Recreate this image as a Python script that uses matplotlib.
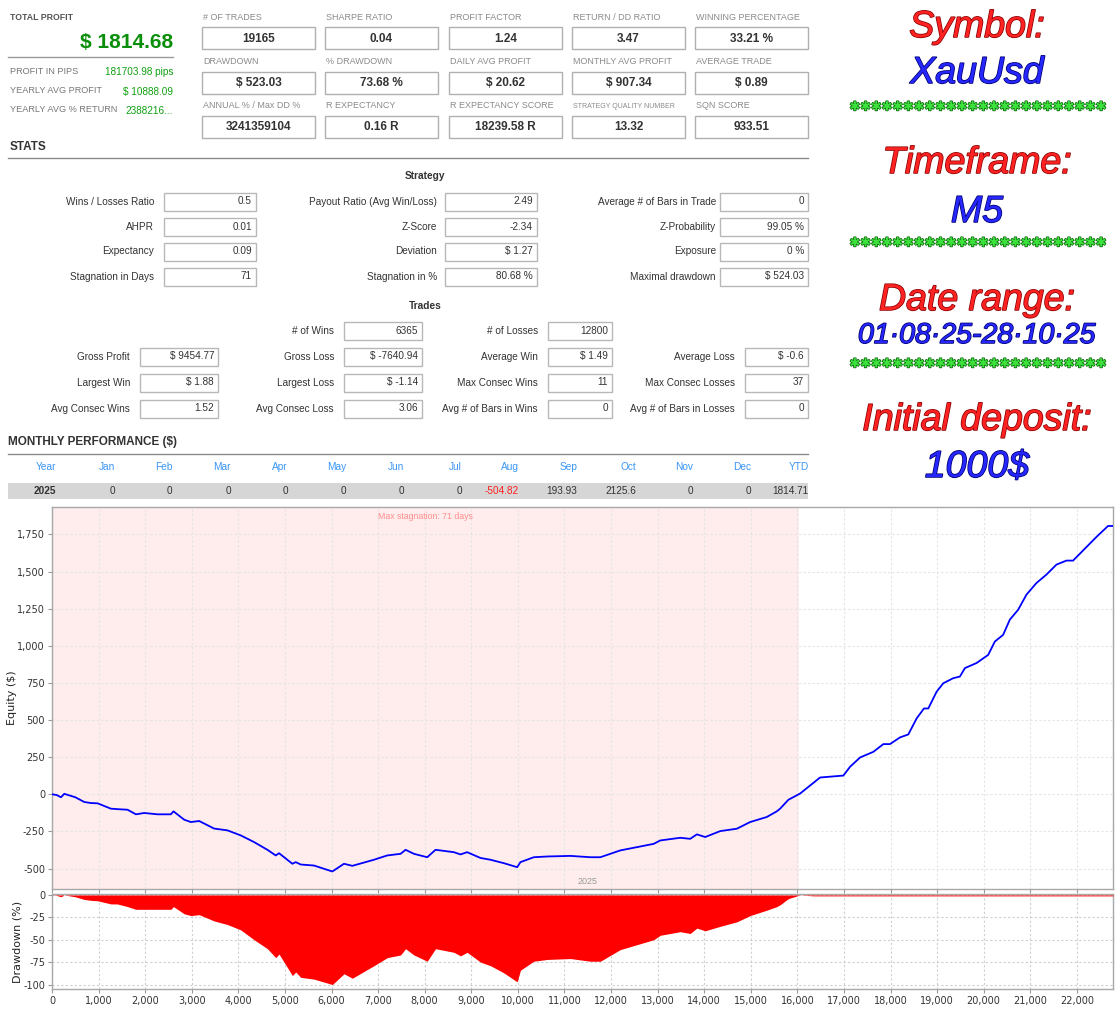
import matplotlib
matplotlib.use('Agg')
import matplotlib.pyplot as plt
import matplotlib.patheffects as pe
from matplotlib.patches import Rectangle
from matplotlib.ticker import FuncFormatter, MultipleLocator

# ---------------- data ----------------
eq_x = [0, 100, 193, 264, 500, 693, 836, 980, 1265, 1400, 1622, 1801, 1980, 2265, 2551, 2608,
        2837, 2980, 3159, 3480, 3766, 4052, 4338, 4624, 4803, 4874, 5160, 5232, 5339, 5625, 6018,
        6268, 6447, 6911, 7197, 7483, 7590, 7769, 8055, 8233, 8626, 8769, 8912, 9198, 9413, 9699,
        9985, 10056, 10342, 10628, 11128, 11557, 11771, 12200, 12915, 13058, 13486, 13700, 13843,
        14022, 14344, 14701, 14987, 15344, 15559, 15630, 15808, 16059, 16345, 16488, 16988, 17131,
        17346, 17632, 17846, 17989, 18203, 18382, 18561, 18718, 18811, 18990, 19133, 19347, 19490,
        19597, 19847, 20097, 20240, 20418, 20561, 20740, 20919, 21133, 21348, 21562, 21776, 21919,
        22133, 22419, 22669, 22776]
eq_y = [0, -5, -20, 3, -20, -52, -59, -61, -97, -100, -104, -135, -126, -135, -135, -115,
        -171, -187, -180, -231, -243, -277, -322, -374, -412, -397, -468, -457, -473, -480, -520,
        -468, -482, -441, -412, -401, -374, -401, -424, -374, -390, -405, -390, -429, -441, -464,
        -491, -457, -424, -419, -415, -424, -424, -378, -334, -311, -293, -300, -270,
        -288, -248, -232, -187, -153, -115, -97, -37, 5, 77, 113, 126, 185,
        248, 286, 338, 338, 383, 403, 511, 578, 578, 691, 748, 782, 793,
        850, 884, 939, 1029, 1074, 1176, 1243, 1345, 1423, 1480, 1547, 1574, 1574,
        1642, 1733, 1807, 1807]

dd_x = [0, 100, 193, 264, 500, 693, 836, 980, 1265, 1400, 1622, 1801, 1980, 2265, 2551, 2608,
        2837, 2980, 3159, 3480, 3766, 4052, 4338, 4624, 4803, 4874, 5160, 5232, 5339, 5625, 6018,
        6268, 6447, 6911, 7197, 7483, 7590, 7769, 8055, 8233, 8626, 8769, 8912, 9198, 9413, 9699,
        9985, 10056, 10342, 10628, 11128, 11557, 11771, 12200, 12915, 13058, 13486, 13700, 13843,
        14022, 14344, 14701, 14987, 15344, 15559, 15630, 15808, 16059,
        16345, 17000, 18000, 19000, 20000, 21000, 22000, 22776]
dd_y = [0, -0.5, -2, 0, -2, -5, -6, -6.5, -10, -10, -13, -16, -16, -16, -16, -13,
        -21, -23, -22, -29, -33, -39, -50, -60, -70, -66, -90, -86, -92, -94, -100,
        -88, -93, -79, -70, -67, -60, -67, -74, -60, -64, -68, -64, -75, -79, -87,
        -97, -84, -74, -72, -71, -74, -74, -61, -50, -45, -41, -43, -37,
        -40, -35, -30, -23, -17, -13, -11, -4, 0,
        -1, -1, -1, -1, -1, -1, -1, -1]

stagnation_end = 16038
stagnation_label = "Max stagnation: 71 days"

summary_labels = ["PROFIT IN PIPS", "YEARLY AVG PROFIT", "YEARLY AVG % RETURN"]
summary_values = ["181703.98 pips", "$ 10888.09", "2388216..."]
total_profit = "$ 1814.68"

grid_labels = [["# OF TRADES", "SHARPE RATIO", "PROFIT FACTOR", "RETURN / DD RATIO", "WINNING PERCENTAGE"],
               ["DRAWDOWN", "% DRAWDOWN", "DAILY AVG PROFIT", "MONTHLY AVG PROFIT", "AVERAGE TRADE"],
               ["ANNUAL % / Max DD %", "R EXPECTANCY", "R EXPECTANCY SCORE", "STRATEGY QUALITY NUMBER", "SQN SCORE"]]
grid_values = [["19165", "0.04", "1.24", "3.47", "33.21 %"],
               ["$ 523.03", "73.68 %", "$ 20.62", "$ 907.34", "$ 0.89"],
               ["3241359104", "0.16 R", "18239.58 R", "13.32", "933.51"]]

strat_labels = [["Wins / Losses Ratio", "AHPR", "Expectancy", "Stagnation in Days"],
                ["Payout Ratio (Avg Win/Loss)", "Z-Score", "Deviation", "Stagnation in %"],
                ["Average # of Bars in Trade", "Z-Probability", "Exposure", "Maximal drawdown"]]
strat_values = [["0.5", "0.01", "0.09", "71"],
                ["2.49", "-2.34", "$ 1.27", "80.68 %"],
                ["0", "99.05 %", "0 %", "$ 524.03"]]

trade_labels = [["Gross Profit", "Largest Win", "Avg Consec Wins"],
                ["Gross Loss", "Largest Loss", "Avg Consec Loss"],
                ["Average Win", "Max Consec Wins", "Avg # of Bars in Wins"],
                ["Average Loss", "Max Consec Losses", "Avg # of Bars in Losses"]]
trade_values = [["$ 9454.77", "$ 1.88", "1.52"],
                ["$ -7640.94", "$ -1.14", "3.06"],
                ["$ 1.49", "11", "0"],
                ["$ -0.6", "37", "0"]]
wins_label, wins_value = "# of Wins", "6365"
losses_label, losses_value = "# of Losses", "12800"

month_headers = ["Year", "Jan", "Feb", "Mar", "Apr", "May", "Jun", "Jul", "Aug", "Sep", "Oct", "Nov", "Dec", "YTD"]
month_values = ["2025", "0", "0", "0", "0", "0", "0", "0", "-504.82", "193.93", "2125.6", "0", "0", "1814.71"]

side_lines = [("Symbol:", 'red'), ("XauUsd", 'blue'), ("stars", 'green'),
              ("Timeframe:", 'red'), ("M5", 'blue'), ("stars", 'green'),
              ("Date range:", 'red'), ("01·08·25-28·10·25", 'blue'), ("stars", 'green'),
              ("Initial deposit:", 'red'), ("1000$", 'blue')]

# ---------------- figure ----------------
W, H = 1120, 1010
fig = plt.figure(figsize=(11.2, 10.1), dpi=100)
fig.patch.set_facecolor('white')
bg = fig.add_axes([0, 0, 1, 1])
bg.set_xlim(0, W)
bg.set_ylim(H, 0)
bg.axis('off')

SANS = ['Liberation Sans', 'DejaVu Sans']


def txt(x, y, s, size=7.0, color='#333333', weight='normal', ha='left', va='center', **kw):
    return bg.text(x, y, s, fontsize=size, color=color, fontweight=weight, ha=ha, va=va,
                   family=SANS, **kw)


def box(x0, y0, x1, y1, ec='#b8b8b8'):
    bg.add_patch(Rectangle((x0, y0), x1 - x0, y1 - y0, facecolor='white', edgecolor=ec, lw=1))


# top-left summary
txt(10, 18, "TOTAL PROFIT", 6.3, '#555555', 'bold')
txt(173, 43, total_profit, 15, '#0a8f0a', 'bold', ha='right')
bg.plot([8, 173], [57, 57], color='#9a9a9a', lw=1)
for i, (lab, val) in enumerate(zip(summary_labels, summary_values)):
    y = 71 + i * 19.5
    txt(10, y, lab, 6.6, '#777777')
    txt(173, y + 1, val, 7.2, '#10a010', ha='right')

# top grid of boxes
col_x0 = [202, 325, 449, 572, 695]
lab_y = [17, 61, 106]
box_y0 = [27, 72, 116]
for r in range(3):
    for c in range(5):
        x0 = col_x0[c]
        lab = grid_labels[r][c]
        fs = 5.0 if lab.startswith("STRATEGY") else 6.5
        txt(x0 + 1, lab_y[r], lab, fs, '#8a8a8a')
        box(x0, box_y0[r], x0 + 113, box_y0[r] + 22, ec='#b0b0b0')
        txt(x0 + 56.5, box_y0[r] + 11.5, grid_values[r][c], 8.5, '#333333', 'bold', ha='center')

# STATS
txt(10, 147, "STATS", 8.5, '#333333', 'bold')
bg.plot([8, 808], [158, 158], color='#8a8a8a', lw=1)
txt(425, 176, "Strategy", 7.3, '#333333', 'bold', ha='center')
s_lab_r = [154, 437, 716]
s_box = [(164, 256), (445, 537), (720, 808)]
s_rows = [202, 227, 251.5, 276.5]
for c in range(3):
    for r in range(4):
        y = s_rows[r]
        txt(s_lab_r[c], y, strat_labels[c][r], 7.2, '#333333', ha='right')
        box(s_box[c][0], y - 9, s_box[c][1], y + 9)
        txt(s_box[c][1] - 4, y - 0.5, strat_values[c][r], 7.2, '#333333', ha='right')

txt(425, 306, "Trades", 7.3, '#333333', 'bold', ha='center')
t_lab_r = [130, 334, 538, 735]
t_box = [(140, 218), (344, 422), (548, 612), (745, 808)]
t_rows = [356.5, 382.5, 408.5]
y = 331
txt(t_lab_r[1], y, wins_label, 7.2, '#333333', ha='right')
box(t_box[1][0], y - 9, t_box[1][1], y + 9)
txt(t_box[1][1] - 4, y - 0.5, wins_value, 7.2, '#333333', ha='right')
txt(t_lab_r[2], y, losses_label, 7.2, '#333333', ha='right')
box(t_box[2][0], y - 9, t_box[2][1], y + 9)
txt(t_box[2][1] - 4, y - 0.5, losses_value, 7.2, '#333333', ha='right')
for c in range(4):
    for r in range(3):
        y = t_rows[r]
        txt(t_lab_r[c], y, trade_labels[c][r], 7.2, '#333333', ha='right')
        box(t_box[c][0], y - 9, t_box[c][1], y + 9)
        txt(t_box[c][1] - 4, y - 0.5, trade_values[c][r], 7.2, '#333333', ha='right')

# Monthly performance
txt(8, 442, "MONTHLY PERFORMANCE ($)", 8.5, '#333333', 'bold')
bg.plot([8, 808], [454, 454], color='#8a8a8a', lw=1)
bg.add_patch(Rectangle((8, 483), 800, 16, facecolor='#d6d6d6', edgecolor='none'))
m_right = [56, 115, 172, 231, 288, 346, 404, 462, 519, 577, 636, 693, 751, 809]
for i, (hd, v) in enumerate(zip(month_headers, month_values)):
    txt(m_right[i], 467, hd, 7.3, '#3a96f5', ha='right')
    col = '#ff2020' if v.startswith('-') else '#333333'
    txt(m_right[i], 491, v, 7.2, col, 'bold' if i == 0 else 'normal', ha='right')

# Side decorative text
side_y = [37, 83, 107, 173, 222, 243, 310, 343, 364, 430, 477]
fill = {'red': '#ff2222', 'blue': '#2626ff', 'green': '#3ee03e'}
edge = {'red': '#8a0000', 'blue': '#000070', 'green': '#006000'}
for (s, c), y in zip(side_lines, side_y):
    if s == "stars":
        bg.text(977, y, "✱" * 24, fontsize=9.2, color=fill[c], ha='center', va='center',
                family=['DejaVu Sans'],
                path_effects=[pe.withStroke(linewidth=1.0, foreground=edge[c])])
        continue
    fs = 20.5 if s.startswith("01") else 27
    bg.text(977, y, s, fontsize=fs, color=fill[c], ha='center', va='baseline',
            family=SANS, style='italic',
            path_effects=[pe.withStroke(linewidth=1.1, foreground=edge[c])])

# ---------------- charts ----------------
L = 52 / W
Wd = (1113 - 52) / W
ax1 = fig.add_axes([L, 1 - 889 / H, Wd, (889 - 507) / H])
ax2 = fig.add_axes([L, 1 - 989 / H, Wd, (989 - 894) / H], sharex=ax1)

xmax = 22776
ax1.set_xlim(0, xmax)
ax1.set_ylim(-638, 1935)
ax1.axvspan(0, stagnation_end, color='#ffeded', zorder=0, lw=0)
ax1.plot(eq_x, eq_y, color='#0000ff', lw=1.3, zorder=3)
ax1.text(stagnation_end / 2, 1870, stagnation_label, fontsize=6.3, color='#ff8c8c',
         ha='center', va='center', family=SANS)
ax1.text(11500, -590, "2025", fontsize=6.5, color='#999999', ha='center', va='center', family=SANS)
ax1.yaxis.set_major_locator(MultipleLocator(250))
ax1.yaxis.set_major_formatter(FuncFormatter(lambda v, p: f"{int(v):,}"))
ax1.set_ylabel("Equity ($)", fontsize=8, color='#222222')
ax1.yaxis.set_label_coords(-0.033, 0.5)
ax1.tick_params(axis='x', labelbottom=False, length=0)

ax2.fill_between(dd_x, dd_y, 0, color='#ff0000', lw=0, zorder=3)
ax2.set_ylim(-105, 1.1)
ax2.set_yticks([0, -25, -50, -75, -100])
ax2.yaxis.set_major_formatter(FuncFormatter(lambda v, p: f"{int(v)}"))
ax2.xaxis.set_major_locator(MultipleLocator(1000))
ax2.xaxis.set_major_formatter(FuncFormatter(lambda v, p: f"{int(v):,}"))
ax2.set_ylabel("Drawdown (%)", fontsize=8, color='#222222')
ax2.yaxis.set_label_coords(-0.028, 0.5)

for ax in (ax1, ax2):
    for sp in ax.spines.values():
        sp.set_color('#a8a8a8')
        sp.set_linewidth(1)
    ax.tick_params(labelsize=7, colors='#333333', length=3, width=0.8, pad=2)
    ax.tick_params(color='#999999')
    for lab in ax.get_xticklabels() + ax.get_yticklabels():
        lab.set_family('DejaVu Sans')
    ax.set_axisbelow(True)
ax1.grid(True, color='#e4e4e4', lw=0.8, ls=(0, (2, 2)))
ax2.grid(True, color='#cfcfcf', lw=0.8, ls=(0, (2, 2)))

fig.savefig('out.png', dpi=100, facecolor='white')
